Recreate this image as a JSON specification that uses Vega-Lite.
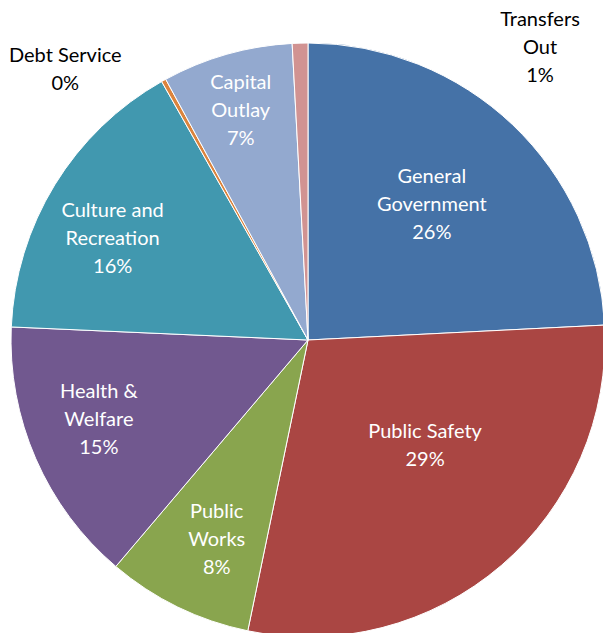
{
  "$schema": "https://vega.github.io/schema/vega-lite/v6.json",
  "width": 590,
  "height": 586,
  "autosize": "none",
  "padding": {"left": 13, "top": 47, "right": 0, "bottom": 0},
  "background": "white",
  "view": {"stroke": null},
  "data": {
    "values": [
      {"cat": "General Government", "v": 24.2, "i": 1, "label": "General|Government|26%"},
      {"cat": "Public Safety", "v": 29.05, "i": 2, "label": "Public Safety|29%"},
      {"cat": "Public Works", "v": 7.95, "i": 3, "label": "Public|Works|8%"},
      {"cat": "Health & Welfare", "v": 14.5, "i": 4, "label": "Health &|Welfare|15%"},
      {"cat": "Culture and Recreation", "v": 16.1, "i": 5, "label": "Culture and|Recreation|16%"},
      {"cat": "Debt Service", "v": 0.25, "i": 6, "label": "Debt Service|0%"},
      {"cat": "Capital Outlay", "v": 7.1, "i": 7, "label": "Capital|Outlay|7%"},
      {"cat": "Transfers Out", "v": 0.85, "i": 8, "label": "Transfers|Out|1%"}
    ]
  },
  "encoding": {
    "theta": {"field": "v", "type": "quantitative", "stack": true},
    "order": {"field": "i", "type": "quantitative"}
  },
  "layer": [
    {
      "mark": {"type": "arc", "radius": 297, "stroke": "white", "strokeWidth": 1},
      "encoding": {
        "color": {
          "field": "cat", "type": "nominal", "legend": null,
          "scale": {
            "domain": ["General Government", "Public Safety", "Public Works", "Health & Welfare", "Culture and Recreation", "Debt Service", "Capital Outlay", "Transfers Out"],
            "range": ["#4572A7", "#AA4643", "#89A54E", "#71588F", "#4198AF", "#DB843D", "#93A9CF", "#D19392"]
          }
        }
      }
    },
    {
      "mark": {"type": "text", "radius": 183, "thetaOffset": -0.017, "dy": -28, "lineBreak": "|", "font": "Lato", "fontSize": 20, "lineHeight": 28, "color": "white", "baseline": "middle"},
      "encoding": {"text": {"condition": {"test": "datum.cat === 'General Government'", "field": "label"}, "value": ""}}
    },
    {
      "mark": {"type": "text", "radius": 158, "thetaOffset": -0.126, "dy": -14, "lineBreak": "|", "font": "Lato", "fontSize": 20, "lineHeight": 28, "color": "white", "baseline": "middle"},
      "encoding": {"text": {"condition": {"test": "datum.cat === 'Public Safety'", "field": "label"}, "value": ""}}
    },
    {
      "mark": {"type": "text", "radius": 220, "thetaOffset": -0.026, "dy": -28, "lineBreak": "|", "font": "Lato", "fontSize": 20, "lineHeight": 28, "color": "white", "baseline": "middle"},
      "encoding": {"text": {"condition": {"test": "datum.cat === 'Public Works'", "field": "label"}, "value": ""}}
    },
    {
      "mark": {"type": "text", "radius": 224, "thetaOffset": 0.045, "dy": -28, "lineBreak": "|", "font": "Lato", "fontSize": 20, "lineHeight": 28, "color": "white", "baseline": "middle"},
      "encoding": {"text": {"condition": {"test": "datum.cat === 'Health & Welfare'", "field": "label"}, "value": ""}}
    },
    {
      "mark": {"type": "text", "radius": 220, "thetaOffset": -0.072, "dy": -28, "lineBreak": "|", "font": "Lato", "fontSize": 20, "lineHeight": 28, "color": "white", "baseline": "middle"},
      "encoding": {"text": {"condition": {"test": "datum.cat === 'Culture and Recreation'", "field": "label"}, "value": ""}}
    },
    {
      "mark": {"type": "text", "radius": 239, "thetaOffset": -0.009, "dy": -28, "lineBreak": "|", "font": "Lato", "fontSize": 20, "lineHeight": 28, "color": "white", "baseline": "middle"},
      "encoding": {"text": {"condition": {"test": "datum.cat === 'Capital Outlay'", "field": "label"}, "value": ""}}
    },
    {
      "mark": {"type": "text", "radius": 363, "thetaOffset": -0.225, "dy": -14, "lineBreak": "|", "font": "Lato", "fontSize": 20, "lineHeight": 28, "color": "black", "baseline": "middle"},
      "encoding": {"text": {"condition": {"test": "datum.cat === 'Debt Service'", "field": "label"}, "value": ""}}
    },
    {
      "mark": {"type": "text", "radius": 373, "thetaOffset": 0.698, "dy": -28, "lineBreak": "|", "font": "Lato", "fontSize": 20, "lineHeight": 28, "color": "black", "baseline": "middle"},
      "encoding": {"text": {"condition": {"test": "datum.cat === 'Transfers Out'", "field": "label"}, "value": ""}}
    }
  ]
}
